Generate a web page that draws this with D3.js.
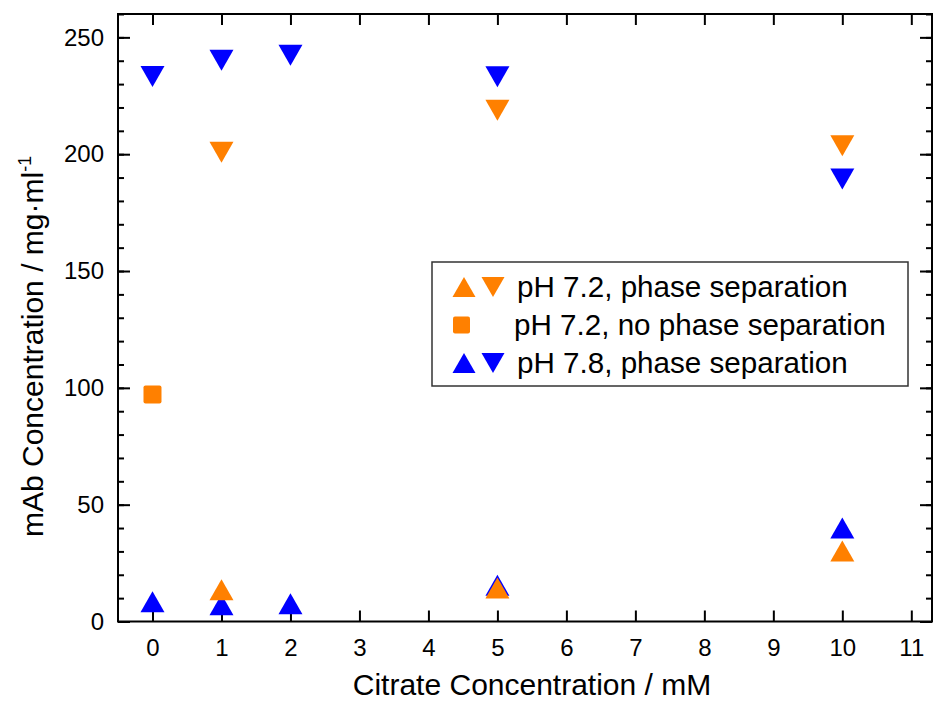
<!DOCTYPE html>
<html>
<head>
<meta charset="utf-8">
<script src="https://cdn.jsdelivr.net/npm/d3@7"></script>
<style>
body { margin: 0; background: #fff; }
text { font-family: Arial, "Liberation Sans", sans-serif; fill: #000; }
</style>
</head>
<body>
<div id="viz"></div>
<script>
var width = 934
var height = 704

// data
var xTicks = [0,1,2,3,4,5,6,7,8,9,10,11]
var yTicks = [0,50,100,150,200,250]
var yMinorTicks = d3.range(0,261,10)

var ph72DownX = [1,5,10]
var ph72DownY = [200.8,218.8,203.6]
var ph72UpX = [1,5,10]
var ph72UpY = [13.6,14.3,30.2]
var ph72NoSepX = [0]
var ph72NoSepY = [97.1]
var ph78DownX = [0,1,2,5,10]
var ph78DownY = [233.2,240.2,242.3,233.1,189.4]
var ph78UpX = [0,1,2,5,10]
var ph78UpY = [8.4,7.2,7.6,15.5,40]

var legendLabels = ["pH 7.2, phase separation","pH 7.2, no phase separation","pH 7.8, phase separation"]

var orange = "#FF8000"
var blue = "#0000FF"

var plotLeft = 118, plotRight = 932, plotTop = 14, plotBottom = 621.5

var canvas = d3.select("#viz")
	.append("svg")
	.attr("width",width)
	.attr("height",height);

var xScale = d3.scaleLinear()
	.domain([-0.5,11.3])
	.range([plotLeft,plotRight]);

var yScale = d3.scaleLinear()
	.domain([0,260])
	.range([plotBottom,plotTop]);

function zip(xs,ys){
	return xs.map(function(x,i){return {x:x,y:ys[i]};});
}

// triangle centred on its bounding box
function tri(w,h,up){
	var s = up ? 1 : -1;
	return "M" + (-w/2) + "," + (s*h/2) + "L" + (w/2) + "," + (s*h/2) + "L0," + (-s*h/2) + "Z";
}

// axes
var xAxis = d3.axisBottom(xScale)
	.tickValues(xTicks)
	.tickSize(-11)
	.tickPadding(17)
	.tickFormat(d3.format("d"));

canvas.append("g")
	.attr("transform","translate(0," + plotBottom + ")")
	.call(xAxis);

canvas.append("g")
	.attr("transform","translate(0," + plotTop + ")")
	.call(d3.axisTop(xScale).tickValues(xTicks).tickSize(-11).tickFormat(""));

var yAxis = d3.axisLeft(yScale)
	.tickValues(yTicks)
	.tickSize(-12)
	.tickPadding(14);

canvas.append("g")
	.attr("transform","translate(" + plotLeft + ",0)")
	.call(yAxis);

canvas.append("g")
	.attr("transform","translate(" + plotLeft + ",0)")
	.call(d3.axisLeft(yScale).tickValues(yMinorTicks).tickSize(-6).tickFormat(""));

canvas.append("g")
	.attr("transform","translate(" + plotRight + ",0)")
	.call(d3.axisRight(yScale).tickValues(yTicks).tickSize(-12).tickFormat(""));

canvas.append("g")
	.attr("transform","translate(" + plotRight + ",0)")
	.call(d3.axisRight(yScale).tickValues(yMinorTicks).tickSize(-6).tickFormat(""));

canvas.selectAll(".domain").remove();
canvas.selectAll(".tick line").attr("stroke","#000").attr("stroke-width",2);
canvas.selectAll(".tick text")
	.attr("font-size",24)
	.attr("font-family","Arial, 'Liberation Sans', sans-serif");

canvas.append("rect")
	.attr("x",plotLeft)
	.attr("y",plotTop)
	.attr("width",plotRight-plotLeft)
	.attr("height",plotBottom-plotTop)
	.attr("fill","none")
	.attr("stroke","#000")
	.attr("stroke-width",2);

// axis titles
canvas.append("text")
	.text("Citrate Concentration / mM")
	.attr("x",532)
	.attr("y",695)
	.attr("text-anchor","middle")
	.attr("font-size",30);

var yLabel = canvas.append("text")
	.attr("transform","translate(43,537) rotate(-90)")
	.attr("font-size",30);
yLabel.append("tspan").text("mAb Concentration / mg\u00B7ml");
yLabel.append("tspan").text("-1").attr("font-size",18).attr("dy",-12);

// points
var plot = canvas.append("g");

function drawTri(data,color,up){
	plot.selectAll(null)
		.data(data)
		.enter()
		.append("path")
		.attr("d",tri(24,21,up))
		.attr("fill",color)
		.attr("transform",function(d){return "translate(" + xScale(d.x) + "," + yScale(d.y) + ")";});
}

drawTri(zip(ph78DownX,ph78DownY),blue,false);
drawTri(zip(ph72DownX,ph72DownY),orange,false);
drawTri(zip(ph78UpX,ph78UpY),blue,true);
drawTri(zip(ph72UpX,ph72UpY),orange,true);

plot.selectAll(null)
	.data(zip(ph72NoSepX,ph72NoSepY))
	.enter()
	.append("rect")
	.attr("x",function(d){return xScale(d.x)-9;})
	.attr("y",function(d){return yScale(d.y)-9;})
	.attr("width",18)
	.attr("height",18)
	.attr("rx",2)
	.attr("fill",orange);

// legend
var legend = canvas.append("g");

legend.append("rect")
	.attr("x",432)
	.attr("y",262)
	.attr("width",476)
	.attr("height",124)
	.attr("fill","#fff")
	.attr("stroke","#333")
	.attr("stroke-width",1.5);

var rowY = [287,325,363];
var rowColors = [orange,orange,blue];

legendLabels.forEach(function(label,i){
	if (i === 1) {
		legend.append("rect")
			.attr("x",453)
			.attr("y",rowY[i]-8.5)
			.attr("width",17)
			.attr("height",17)
			.attr("rx",2)
			.attr("fill",rowColors[i]);
	} else {
		legend.append("path")
			.attr("d",tri(23,20,true))
			.attr("fill",rowColors[i])
			.attr("transform","translate(464," + rowY[i] + ")");
		legend.append("path")
			.attr("d",tri(23,20,false))
			.attr("fill",rowColors[i])
			.attr("transform","translate(493," + rowY[i] + ")");
	}
	legend.append("text")
		.text(label)
		.attr("x",i === 1 ? 514 : 517)
		.attr("y",rowY[i] + 10)
		.attr("font-size",29.6);
});
</script>
</body>
</html>
